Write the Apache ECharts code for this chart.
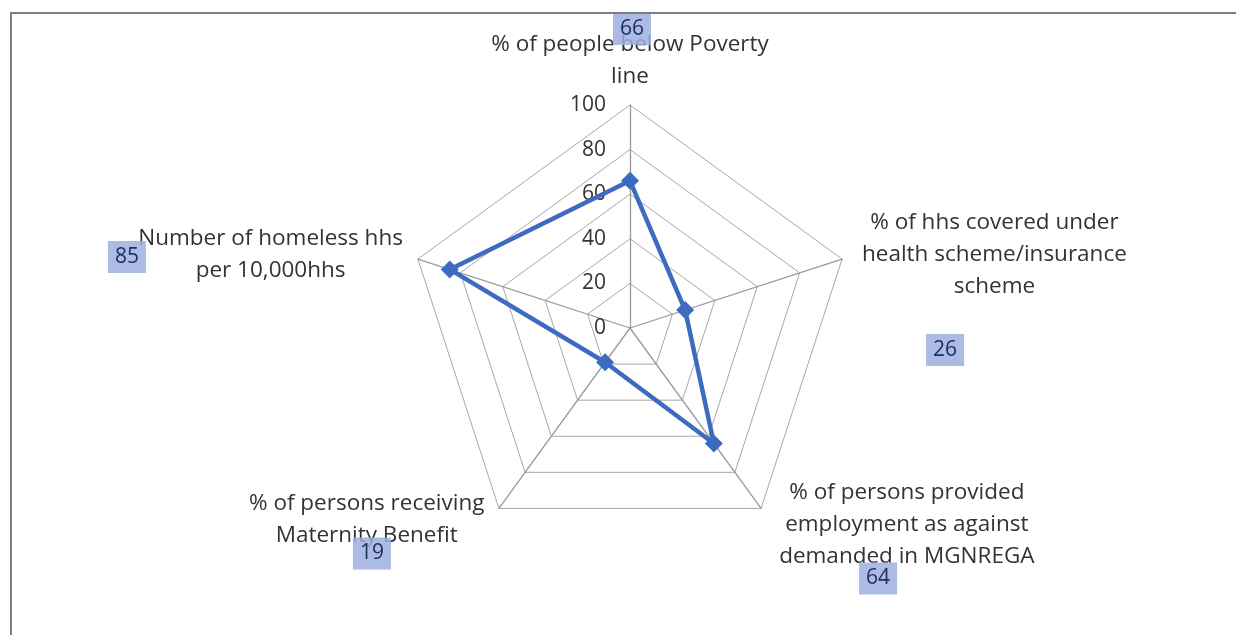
<!DOCTYPE html>
<html>
<head>
<meta charset="utf-8">
<script src="https://cdn.jsdelivr.net/npm/echarts@6/dist/echarts.min.js"></script>
<style>
  html, body { margin: 0; padding: 0; background: #ffffff; }
  #chart { width: 1236px; height: 635px; }
  #frame { position: absolute; left: 10px; top: 12px; width: 1240px; height: 640px;
           border-top: 2px solid #7f7f7f; border-left: 2px solid #7f7f7f; pointer-events: none; }
</style>
</head>
<body>
<div id="chart"></div>
<div id="frame"></div>
<script>
// Indicators in ECharts order (counter-clockwise starting at top)
const indicatorNames = [
  "% of people below Poverty\nline",
  "Number of homeless hhs\nper 10,000hhs",
  "% of persons receiving\nMaternity Benefit",
  "% of persons provided\nemployment as against\ndemanded in MGNREGA",
  "% of hhs covered under\nhealth scheme/insurance\nscheme"
];
const values = [66, 85, 19, 64, 26];
const axisMax = 100;
const tickInterval = 20;

const FONT = 'Open Sans';
const FS = 22.5;
const FS_SMALL = 21;
const nameWidths = [292, 268, 248, 268, 278];
const valueOffsets = [[2, -76], [-291, -2], [-127, 45], [117, 70], [103, 91]];

const rich = {};
nameWidths.forEach((w, i) => {
  rich['n' + i] = { width: w, align: 'center', lineHeight: 32, fontSize: FS,
                    fontFamily: FONT, color: '#333333' };
});

const chart = echarts.init(document.getElementById('chart'), null, { renderer: 'canvas' });

const option = {
  backgroundColor: '#ffffff',
  animation: false,
  radar: {
    center: [630, 328],
    radius: 223,
    startAngle: 90,
    shape: 'polygon',
    splitNumber: axisMax / tickInterval,
    indicator: indicatorNames.map((n, i) => {
      const o = { name: n, min: 0, max: axisMax };
      if (i === 0) {
        o.axisLabel = { show: true };
        o.nameGap = 12;
      }
      if (i === 3) {
        o.nameGap = 20;
      }
      return o;
    }),
    axisName: {
      formatter: function (name) {
        const idx = indicatorNames.indexOf(name);
        return name.split('\n').map(l => '{n' + idx + '|' + l + '}').join('\n');
      },
      rich: rich
    },
    nameGap: 14,
    axisLine: { lineStyle: { color: '#999999', width: 1.3 } },
    splitLine: { lineStyle: { color: '#a8a8a8', width: 1 } },
    splitArea: { show: false },
    axisTick: { show: false },
    axisLabel: {
      show: false,
      color: '#333333',
      fontSize: FS_SMALL,
      fontFamily: FONT,
      margin: 24
    }
  },
  series: [{
    type: 'radar',
    symbol: 'diamond',
    symbolSize: 18,
    lineStyle: { color: '#3d6bbf', width: 4.5 },
    itemStyle: { color: '#3d6bbf' },
    data: [{ value: values, name: 'Value' }]
  }]
};

chart.setOption(option);

// Value boxes anchored to the radar's outer vertices
const radarCoord = chart.getModel().getComponent('radar', 0).coordinateSystem;
const graphics = values.map((v, i) => {
  const p = radarCoord.dataToPoint(axisMax, i);
  return {
    type: 'text',
    x: p[0] + valueOffsets[i][0],
    y: p[1] + valueOffsets[i][1],
    z: 10,
    style: {
      text: String(v),
      fill: '#1f2d5c',
      font: FS_SMALL + 'px "' + FONT + '"',
      align: 'center',
      verticalAlign: 'middle',
      backgroundColor: 'rgba(158,175,224,0.85)',
      padding: [6, 7, 5, 7]
    }
  };
});
chart.setOption({ graphic: graphics });
</script>
</body>
</html>
